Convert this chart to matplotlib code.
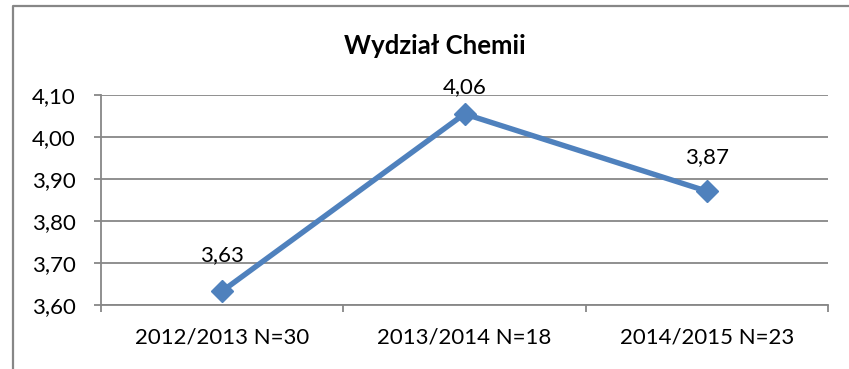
import matplotlib
matplotlib.use("Agg")
import matplotlib.pyplot as plt
from matplotlib.lines import Line2D

plt.rcParams['font.family'] = ['Lato', 'DejaVu Sans']

# Data
categories = ["2012/2013 N=30", "2013/2014 N=18", "2014/2015 N=23"]
values = [3.633, 4.055, 3.871]
value_labels = ["3,63", "4,06", "3,87"]
y_ticks = [3.60, 3.70, 3.80, 3.90, 4.00, 4.10]
y_tick_labels = ["3,60", "3,70", "3,80", "3,90", "4,00", "4,10"]
title = "Wydział Chemii"

W, H, DPI = 849, 369, 100
fig = plt.figure(figsize=(W / DPI, H / DPI), dpi=DPI)
fig.patch.set_facecolor("white")

grey = "#878787"
blue = "#4F81BD"
fs = 16

# Plot area in pixel coordinates
left, right, top, bottom = 101, 828, 95, 305
ax = fig.add_axes([left / W, 1 - bottom / H, (right - left) / W, (bottom - top) / H])

x = list(range(len(categories)))
ax.plot(x, values, color=blue, lw=3.9, marker="D", markersize=11.5,
        markerfacecolor=blue, markeredgecolor=blue, zorder=3, clip_on=False)

label_offsets = [26, 19, 24.5]
for xi, v, lab, off in zip(x, values, value_labels, label_offsets):
    ax.annotate(lab, (xi, v), xytext=(0, off), textcoords="offset points",
                ha="center", va="center", fontsize=fs, color="black")

ax.set_xlim(-0.5, len(categories) - 0.5)
ax.set_ylim(y_ticks[0], y_ticks[-1])
ax.set_yticks(y_ticks)
ax.set_yticklabels(y_tick_labels)
ax.set_xticks(x)
ax.set_xticklabels(categories)
ax.set_xticks([i - 0.5 for i in range(len(categories) + 1)], minor=True)

ax.grid(axis="y", color=grey, lw=1.3)
ax.set_axisbelow(True)

for s in ["top", "right"]:
    ax.spines[s].set_visible(False)
for s in ["left", "bottom"]:
    ax.spines[s].set_color(grey)
    ax.spines[s].set_linewidth(1.3)

ax.tick_params(axis="y", direction="out", length=5, width=1.3, color=grey,
               pad=13, labelsize=fs)
ax.tick_params(axis="x", which="major", length=0, pad=16, labelsize=fs)
ax.tick_params(axis="x", which="minor", direction="out", length=5, width=1.3,
               color=grey)

fig.text(435 / W, 1 - 46 / H, title, ha="center", va="center",
         fontsize=18.5, fontweight="bold")

# Chart border (left and top edges)
fig.add_artist(Line2D([13 / W, 13 / W, 1.0], [0.0, 1 - 6 / H, 1 - 6 / H],
                      transform=fig.transFigure, color=grey, lw=1.6))

fig.savefig("out.png", dpi=DPI, facecolor="white")
